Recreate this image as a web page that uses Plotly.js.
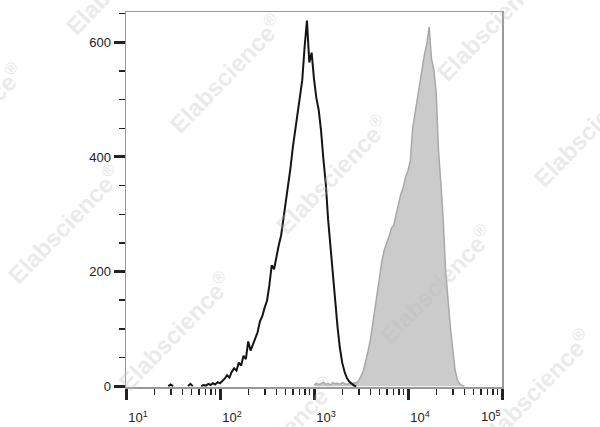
<!DOCTYPE html>
<html>
<head>
<meta charset="utf-8">
<script src="https://cdn.plot.ly/plotly-3.0.1.min.js"></script>
<style>html,body{margin:0;padding:0;background:#fff;}#chart{width:600px;height:427px;}</style>
</head>
<body>
<div id="chart"></div>
<script>
// ---- data (x positions as log10 of intensity) ----
var blackLog = [1.45,1.475,1.50,null,1.66,1.685,1.71,null,
  1.800,1.825,1.850,1.875,1.900,1.925,1.950,1.975,2.000,2.025,2.050,2.075,2.100,2.125,2.150,2.175,
  2.200,2.225,2.250,2.275,2.300,2.325,2.350,2.375,2.400,2.425,2.450,2.475,2.500,2.525,2.550,2.575,
  2.600,2.625,2.650,2.675,2.700,2.725,2.750,2.775,2.800,2.825,2.850,2.875,2.900,2.925,2.950,2.975,
  3.000,3.025,3.050,3.075,3.100,3.125,3.150,3.175,3.200,3.225,3.250,3.275,3.300,3.325,3.350,3.375,
  3.400,3.425,3.450];
var blackCount = [0,3,0,null,0,4,0,null,
  0,2,1,4,2,5,3,7,5,9,13,19,15,25,31,27,
  41,36,53,47,78,62,73,81,94,113,122,137,149,176,211,204,
  229,246,263,291,326,356,381,417,446,469,504,534,592,638,565,582,
  536,503,482,446,396,354,291,243,198,151,104,67,41,25,14,8,
  4,1,0];

var grayLog = [3.000,3.025,3.050,3.075,3.100,3.125,3.150,3.175,3.200,3.225,3.250,3.275,3.300,3.325,
  3.350,3.375,3.400,3.425,3.450,3.475,3.500,3.525,3.550,3.575,3.600,3.625,3.650,3.675,3.700,3.725,
  3.750,3.775,3.800,3.825,3.850,3.875,3.900,3.925,3.950,3.975,4.000,4.025,4.050,4.075,4.100,4.125,
  4.150,4.175,4.200,4.225,4.250,4.275,4.300,4.325,4.350,4.375,4.400,4.425,4.450,4.475,4.500,4.525,
  4.550,4.575,4.600];
var grayCount = [2,5,3,4,7,3,5,2,6,4,5,3,6,4,
  3,5,4,6,5,10,17,27,43,61,81,109,141,171,201,221,
  239,249,262,276,281,301,318,336,347,366,376,394,451,477,506,526,
  556,579,597,627,571,553,512,410,354,289,202,149,104,67,29,11,
  4,1,0];

var xTickVals = [10, 100, 1000, 10000, 100000];
var xTickText = ['10<sup>1</sup>', '10<sup>2</sup>', '10<sup>3</sup>', '10<sup>4</sup>', ' '];
var xLastLabel = '10<sup>5</sup>';
var yTickVals = [0, 200, 400, 600];

// ---- build ----
function toLin(arr){ return arr.map(function(v){ return v === null ? null : Math.pow(10, v); }); }
var minorX = [];
for (var d = 1; d < 5; d++) { for (var m = 2; m <= 9; m++) { minorX.push(m * Math.pow(10, d)); } }

var traces = [
  { x: toLin(grayLog), y: grayCount, type: 'scatter', mode: 'lines',
    fill: 'tozeroy', fillcolor: '#cbcbcb',
    line: { color: '#a8a8a8', width: 1.5 }, hoverinfo: 'skip', showlegend: false },
  { x: toLin(blackLog), y: blackCount, type: 'scatter', mode: 'lines', connectgaps: false,
    line: { color: '#141414', width: 2 }, hoverinfo: 'skip', showlegend: false }
];

var wmPos = [[-0.011,1.099],[0.266,0.837],[0.976,0.976],[-0.423,0.707],[0.548,0.568],[1.234,0.693],
             [-0.165,0.435],[0.824,0.275],[0.130,0.149],[1.088,-0.003],[0.407,-0.131]];
var annotations = wmPos.map(function(p){
  return { xref: 'paper', yref: 'paper', x: p[0], y: p[1], xanchor: 'center', yanchor: 'middle',
    text: 'Elabscience<sup>®</sup>', showarrow: false, textangle: -46,
    font: { family: 'Liberation Sans, Arial, sans-serif', size: 24, weight: 'bold', color: 'rgba(190,190,190,0.33)' } };
});
annotations.push({ xref: 'x', yref: 'paper', x: 5, y: 0, yanchor: 'top', xanchor: 'center',
  xshift: -11, yshift: -19, text: xLastLabel, showarrow: false,
  font: { family: 'Liberation Sans, Arial, sans-serif', size: 13, color: '#222' } });

var tickFont = { family: 'Liberation Sans, Arial, sans-serif', size: 13, color: '#222' };

var layout = {
  width: 600, height: 427,
  margin: { l: 126, r: 98, t: 12, b: 40, pad: 0 },
  paper_bgcolor: '#ffffff', plot_bgcolor: '#ffffff',
  showlegend: false,
  xaxis: {
    type: 'log', range: [1, 5], tickmode: 'array', tickvals: xTickVals, ticktext: xTickText,
    ticks: 'outside', ticklen: 11, tickwidth: 3, tickcolor: '#222',
    showline: true, linecolor: '#999', linewidth: 1.5, mirror: true,
    showgrid: false, zeroline: false, tickfont: tickFont, ticklabelshift: 12, ticklabelstandoff: 7,
    minor: { tickmode: 'array', tickvals: minorX, ticks: 'outside', ticklen: 6, tickwidth: 1.5, tickcolor: '#222', showgrid: false }
  },
  yaxis: {
    range: [-1.5, 653], tickmode: 'array', tickvals: yTickVals,
    ticks: 'outside', ticklen: 11, tickwidth: 3, tickcolor: '#222',
    showline: true, linecolor: '#999', linewidth: 1.5, mirror: true,
    showgrid: false, zeroline: false, tickfont: tickFont,
    minor: { dtick: 50, ticks: 'outside', ticklen: 6, tickwidth: 1.5, tickcolor: '#222', showgrid: false }
  },
  annotations: annotations
};

Plotly.newPlot('chart', traces, layout, { staticPlot: true, displayModeBar: false });
</script>
</body>
</html>
